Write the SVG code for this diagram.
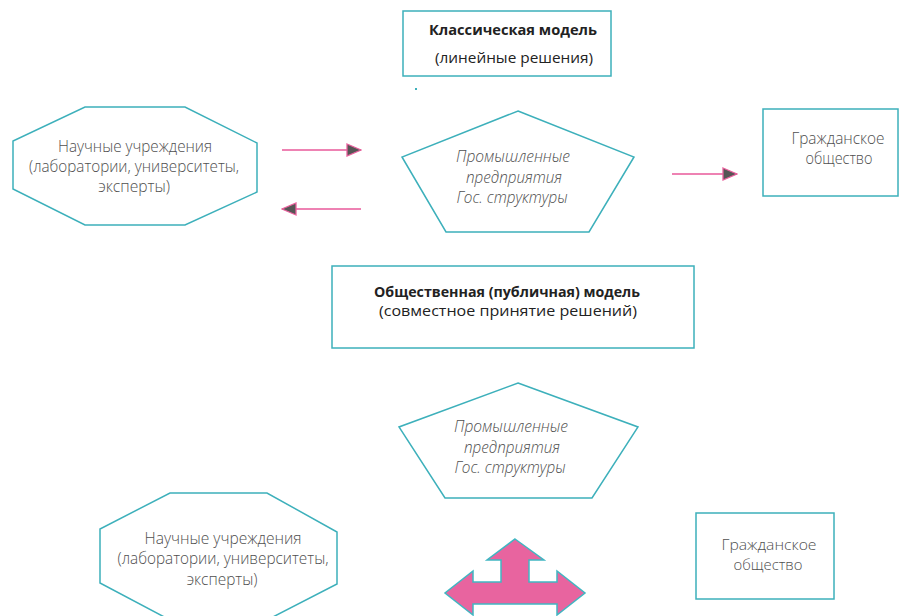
<svg xmlns="http://www.w3.org/2000/svg" width="900" height="616" viewBox="0 0 900 616">
<defs>
<style>
.shape{fill:#fff;stroke:#3db0bb;stroke-width:1.5}
.t{font-family:"Open Sans","Liberation Sans",sans-serif;font-size:16px;fill:#4f4f4f;text-anchor:middle;font-weight:300}
.s{font-size:15px}
.i{font-style:italic}
.b{font-weight:700;fill:#222;font-size:15px}
.r{fill:#222;font-weight:400;font-size:15px}
.conn{stroke:#e8589a;stroke-width:1.6;fill:none}
</style>
<marker id="ah" viewBox="0 0 16 14" refX="15" refY="7" markerWidth="16" markerHeight="14" markerUnits="userSpaceOnUse" orient="auto">
<path d="M1,1 L15,7 L1,13 Z" fill="#555" stroke="#e8609c" stroke-width="1.3"/>
</marker>
</defs>
<rect width="900" height="616" fill="#fff"/>

<g id="classic-title">
<rect class="shape" x="403" y="11" width="208" height="65"/>
<text class="t b" x="513" y="35" textLength="168" lengthAdjust="spacingAndGlyphs">Классическая модель</text>
<text class="t r" x="514" y="63" textLength="158" lengthAdjust="spacingAndGlyphs">(линейные решения)</text>
</g>
<rect x="415" y="88" width="2" height="2" fill="#3db0bb"/>

<g id="science-1">
<polygon class="shape" points="85,107 185,107 257,143 257,192 185,225 85,225 13,189 13,141"/>
<text class="t" x="135" y="152" textLength="154" lengthAdjust="spacingAndGlyphs">Научные учреждения</text>
<text class="t" x="134" y="172" textLength="210" lengthAdjust="spacingAndGlyphs">(лаборатории, университеты,</text>
<text class="t" x="134" y="192" textLength="72" lengthAdjust="spacingAndGlyphs">эксперты)</text>
</g>

<g id="industry-1">
<polygon class="shape" points="518,111 634,157 589,232 446,232 402,157"/>
<text class="t i" x="513" y="162" textLength="114" lengthAdjust="spacingAndGlyphs">Промышленные</text>
<text class="t i" x="514" y="183" textLength="96" lengthAdjust="spacingAndGlyphs">предприятия</text>
<text class="t i" x="512" y="203" textLength="111" lengthAdjust="spacingAndGlyphs">Гос. структуры</text>
</g>

<g id="civil-1">
<rect class="shape" x="763" y="109" width="135" height="87"/>
<text class="t" x="838" y="144" textLength="93" lengthAdjust="spacingAndGlyphs">Гражданское</text>
<text class="t" x="839" y="164" textLength="67" lengthAdjust="spacingAndGlyphs">общество</text>
</g>

<g id="public-title">
<rect class="shape" x="332" y="266" width="362" height="82"/>
<text class="t b" x="507" y="297" textLength="266" lengthAdjust="spacingAndGlyphs">Общественная (публичная) модель</text>
<text class="t r" x="508" y="316" textLength="258" lengthAdjust="spacingAndGlyphs">(совместное принятие решений)</text>
</g>

<g id="industry-2">
<polygon class="shape" points="518,383 638,427 592,498 445,498 399,427"/>
<text class="t i" x="511" y="432" textLength="114" lengthAdjust="spacingAndGlyphs">Промышленные</text>
<text class="t i" x="512" y="453" textLength="96" lengthAdjust="spacingAndGlyphs">предприятия</text>
<text class="t i" x="510" y="473" textLength="111" lengthAdjust="spacingAndGlyphs">Гос. структуры</text>
</g>

<g id="science-2">
<polygon class="shape" points="170,493 267,493 337,532 337,584 267,620 170,620 100,583 100,529"/>
<text class="t" x="223" y="544" textLength="157" lengthAdjust="spacingAndGlyphs">Научные учреждения</text>
<text class="t" x="223" y="564" textLength="211" lengthAdjust="spacingAndGlyphs">(лаборатории, университеты,</text>
<text class="t" x="222" y="585" textLength="71" lengthAdjust="spacingAndGlyphs">эксперты)</text>
</g>

<g id="civil-2">
<rect class="shape" x="696" y="513" width="138" height="86"/>
<text class="t s" x="769" y="550" textLength="95" lengthAdjust="spacingAndGlyphs">Гражданское</text>
<text class="t s" x="768" y="570" textLength="69" lengthAdjust="spacingAndGlyphs">общество</text>
</g>

<g id="connectors">
<line class="conn" x1="282" y1="150" x2="361" y2="150" marker-end="url(#ah)"/>
<line class="conn" x1="361" y1="209" x2="282" y2="209" marker-end="url(#ah)"/>
<line class="conn" x1="672" y1="174" x2="737" y2="174" marker-end="url(#ah)"/>
<path id="tri-arrow" d="M515,539 L544,560 L529,560 L529,582 L557,582 L557,571 L585,593 L557,615 L557,604 L473,604 L473,615 L445,593 L473,571 L473,582 L501,582 L501,560 L487,560 Z" fill="#e8649f" stroke="#40b6c2" stroke-width="1.5"/>
</g>
</svg>
